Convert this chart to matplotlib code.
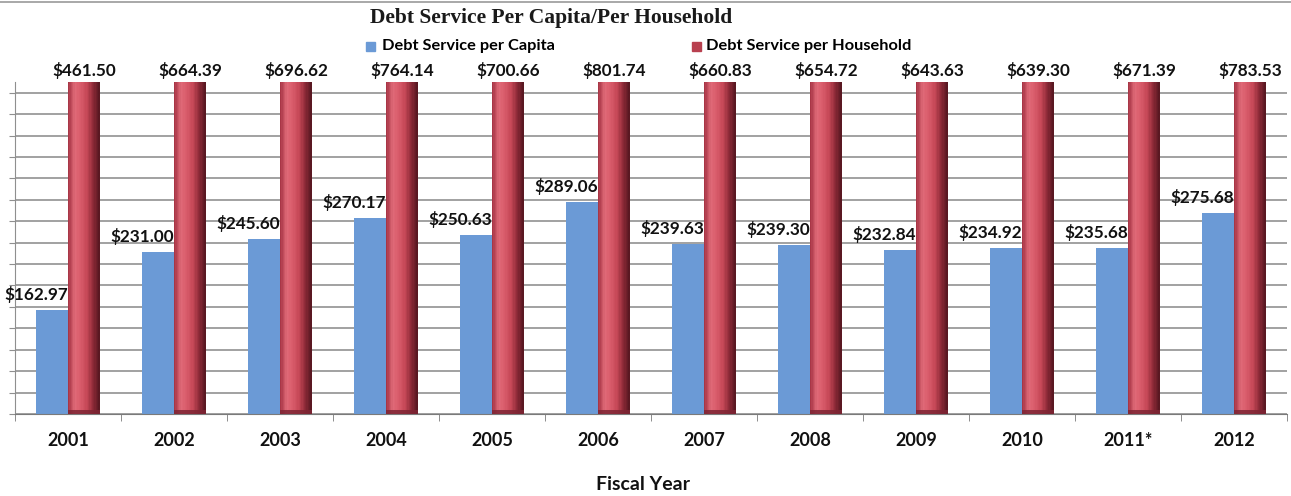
import numpy as np
import matplotlib
matplotlib.use("Agg")
import matplotlib.pyplot as plt
from matplotlib.colors import LinearSegmentedColormap
from matplotlib.patches import Rectangle
from matplotlib.lines import Line2D

years = ["2001", "2002", "2003", "2004", "2005", "2006",
         "2007", "2008", "2009", "2010", "2011*", "2012"]
per_capita = [162.97, 231.00, 245.60, 270.17, 250.63, 289.06,
              239.63, 239.30, 232.84, 234.92, 235.68, 275.68]
per_household = [461.50, 664.39, 696.62, 764.14, 700.66, 801.74,
                 660.83, 654.72, 643.63, 639.30, 671.39, 783.53]

BLUE = "#6b9ad6"
Y_MIN, Y_MAX, Y_STEP = 41.5, 429.0, 25.0

fig = plt.figure(figsize=(12.91, 4.96), dpi=100)
ax = fig.add_axes([15 / 1291, 1 - 414 / 496, 1272 / 1291, 332 / 496])

x = np.arange(len(years))
w = 0.30

# gridlines
for g in np.arange(Y_MIN, Y_MAX, Y_STEP):
    ax.axhline(g, color="#878787", lw=1.1, zorder=0)

# per-capita bars (flat)
ax.bar(x - w / 2, per_capita, width=w, color=BLUE, linewidth=0, zorder=2)

# per-household bars drawn as shaded cylinders (vertical strips)
cyl = LinearSegmentedColormap.from_list(
    "cyl", ["#a83646", "#e06a78", "#d85a69", "#c44756", "#8e2a38", "#5a1822"])
n_strips = 24
sw = w / n_strips
for j in range(n_strips):
    ax.bar(x + (j + 0.5) * sw, per_household, width=sw * 1.02,
           color=cyl(j / (n_strips - 1)), linewidth=0, zorder=2)
# darker base rim of each cylinder
ax.bar(x + w / 2, np.full(len(x), 4.5), bottom=Y_MIN, width=w,
       color="#7e2534", linewidth=0, zorder=3, alpha=0.85)

ax.set_xlim(-0.5, len(x) - 0.5)
ax.set_ylim(Y_MIN, Y_MAX)

LBL = dict(fontsize=12.3, fontweight="bold", family="Lato", color="#111111")
AXL = dict(fontsize=13, fontweight="bold", family="Lato", color="#111111")

# value labels
for xi, v in zip(x, per_capita):
    ax.annotate(f"${v:,.2f}", (xi - w / 2 - 0.15, v), xytext=(0, 5),
                textcoords="offset points", ha="center", va="bottom", **LBL)
for xi, v in zip(x, per_household):
    ax.annotate(f"${v:,.2f}", (xi + w / 2, Y_MAX), xytext=(0, 2),
                textcoords="offset points", ha="center", va="bottom",
                annotation_clip=False, **LBL)

# axes styling
for s in ("top", "right"):
    ax.spines[s].set_visible(False)
ax.spines["left"].set_color("#8f8f8f")
ax.spines["bottom"].set_color("#7a7a7a")
ax.set_yticks(np.arange(Y_MIN, Y_MAX, Y_STEP))
ax.set_yticklabels([])
ax.tick_params(axis="y", length=4, color="#8f8f8f", direction="out")
ax.set_xticks(x)
ax.set_xticklabels(years, **AXL)
ax.tick_params(axis="x", length=0, pad=13)
ax.set_xticks(np.arange(-0.5, len(x), 1.0), minor=True)
ax.tick_params(axis="x", which="minor", length=5, color="#7a7a7a")

# axis title
fig.text(643 / 1291, 1 - 485 / 496, "Fiscal Year", ha="center", va="center",
         fontsize=14, fontweight="bold", family="Lato", color="#111111")

# title and legend
fig.text(370 / 1291, 1 - 18 / 496, "Debt Service Per Capita/Per Household",
         ha="left", va="center", fontsize=15.5, fontweight="bold",
         family="Liberation Serif", color="#1a1a1a")
fig.patches.append(Rectangle((366 / 1291, 1 - 51 / 496), 9 / 1291, 9 / 496,
                             transform=fig.transFigure, color=BLUE))
fig.text(382 / 1291, 1 - 46 / 496, "Debt Service per Capita", ha="left",
         va="center", fontsize=11.8, fontweight="bold", family="Lato")
fig.patches.append(Rectangle((692 / 1291, 1 - 51 / 496), 9 / 1291, 9 / 496,
                             transform=fig.transFigure, color="#b8404f"))
fig.text(706 / 1291, 1 - 46 / 496, "Debt Service per Household", ha="left",
         va="center", fontsize=11.8, fontweight="bold", family="Lato")

# thin rule along the top edge of the page
fig.add_artist(Line2D([0, 1], [1 - 2 / 496, 1 - 2 / 496],
                      transform=fig.transFigure, color="#9a9a9a", lw=1.2))

fig.savefig("out.png", dpi=100)
